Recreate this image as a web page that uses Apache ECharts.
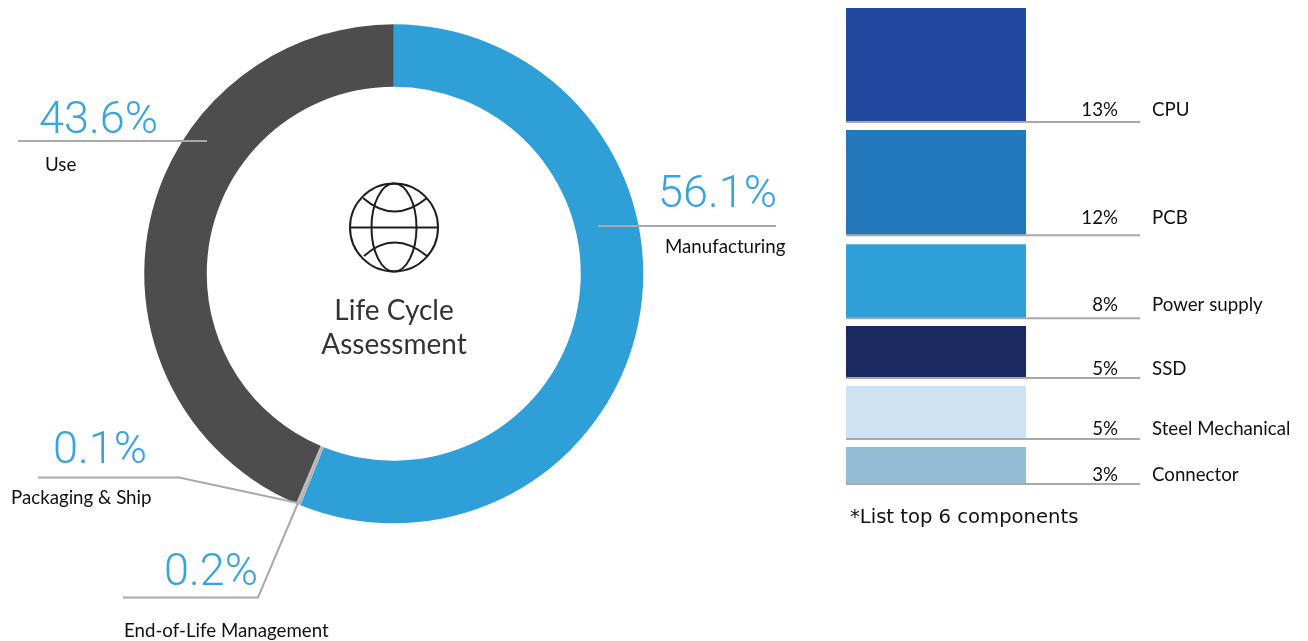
<!DOCTYPE html>
<html>
<head>
<meta charset="utf-8">
<style>html,body{margin:0;padding:0;background:#fff}#c{width:1308px;height:641px}</style>
<script src="https://cdn.jsdelivr.net/npm/echarts@6/dist/echarts.min.js"></script>
</head>
<body>
<div id="c"></div>
<script>
// Life-cycle shares (%)
const stageNames = ['Manufacturing', 'End-of-Life Management', 'Packaging & Ship', 'Use'];
const stageValues = [56.1, 0.2, 0.1, 43.6];
const stageColors = ['#2f9fd8', '#b5b5b5', '#b5b5b5', '#4d4d4d'];

// Top components
const componentNames = ['CPU', 'PCB', 'Power supply', 'SSD', 'Steel Mechanical', 'Connector'];
const componentPercents = [13, 12, 8, 5, 5, 3];
// Drawn block heights (the artwork is not strictly proportional)
const componentBlocks = [13.0, 12.0, 8.44, 5.93, 6.04, 4.22];
const blockGaps = [0.91, 1.03, 0.91, 0.91, 0.91];
const componentColors = ['#214a9f', '#2378bb', '#2f9fd8', '#1b2a60', '#cfe2f2', '#92bcd3'];
const footnote = '*List top 6 components';
const centerLines = ['Life Cycle', 'Assessment'];

const LABEL_FONT = 'Lato';
const NUM_FONT = 'Roboto';
const LINE = '#a9a9a9';

const chart = echarts.init(document.getElementById('c'), null, {width: 1308, height: 641});

const series = [{
  type: 'pie', animation: false, silent: true,
  center: [393.75, 273.75], radius: [187, 249.5], startAngle: 90, clockwise: true,
  label: {show: false}, labelLine: {show: false}, minAngle: 0,
  data: stageNames.map((n, i) => ({name: n, value: stageValues[i], itemStyle: {color: stageColors[i]}}))
}];
componentNames.forEach((n, i) => {
  series.push({
    type: 'bar', name: n, stack: 'parts', barWidth: 180, animation: false, silent: true,
    itemStyle: {color: componentColors[i]}, data: [componentBlocks[i]]
  });
  if (i < blockGaps.length) series.push({
    type: 'bar', name: 'gap' + i, stack: 'parts', barWidth: 180, animation: false, silent: true,
    itemStyle: {color: 'transparent'}, data: [blockGaps[i]]
  });
});
const total = componentBlocks.concat(blockGaps).reduce((a, b) => a + b, 0);

chart.setOption({
  backgroundColor: '#fff',
  grid: {left: 846, width: 180, top: 8, height: 476},
  xAxis: {type: 'category', data: ['parts'], show: false},
  yAxis: {type: 'value', inverse: true, min: 0, max: total, show: false},
  series
});

// Annotation layer
function text(str, x, y, size, opts) {
  opts = opts || {};
  return {type: 'text', z: 110, silent: true, x, y, style: {
    text: str, fill: opts.fill || '#111', align: opts.align || 'left', verticalAlign: 'middle',
    font: (opts.weight || 400) + ' ' + size + 'px "' + (opts.font || LABEL_FONT) + '", sans-serif'
  }};
}
function poly(points, color, w) {
  return {type: 'polyline', z: 105, silent: true, shape: {points}, style: {stroke: color || LINE, lineWidth: w || 2, fill: null}};
}
const g = [];
const NUM = '#38a3dc';
const pct = v => v + '%';
const stageLayout = [
  {numX: 658, numY: 196, nameX: 665, nameY: 247, line: [[598, 226], [776, 226]]},
  {numX: 164, numY: 574, nameX: 124, nameY: 631, line: [[123, 597.5], [258, 597.5], [298, 503]]},
  {numX: 53, numY: 452, nameX: 11, nameY: 498, line: [[38, 477.5], [179, 477.5], [298, 503]]},
  {numX: 39, numY: 122, nameX: 45, nameY: 165, line: [[18, 141], [207, 141]]}
];
stageNames.forEach((n, i) => {
  const l = stageLayout[i];
  g.push(poly(l.line));
  g.push(text(pct(stageValues[i]), l.numX, l.numY, 45, {fill: NUM, font: NUM_FONT, weight: 300}));
  g.push(text(n, l.nameX, l.nameY, 18.7));
});
centerLines.forEach((s, i) => g.push(text(s, 394, 311 + i * 34, 28, {align: 'center', font: 'Lato', fill: '#333'})));

// Globe
const gs = {stroke: '#1e1e1e', lineWidth: 2, fill: null};
g.push({type: 'circle', z: 110, silent: true, shape: {cx: 394, cy: 227.5, r: 44}, style: gs});
g.push({type: 'ellipse', z: 110, silent: true, shape: {cx: 394, cy: 227.5, rx: 22.5, ry: 44}, style: gs});
g.push({type: 'line', z: 110, silent: true, shape: {x1: 350, y1: 227.5, x2: 438, y2: 227.5}, style: gs});
g.push({type: 'bezierCurve', z: 110, silent: true, shape: {x1: 363, y1: 198, x2: 427, y2: 198, cpx1: 394, cpy1: 225}, style: gs});
g.push({type: 'bezierCurve', z: 110, silent: true, shape: {x1: 364, y1: 256, x2: 427, y2: 256, cpx1: 394, cpy1: 229}, style: gs});

// Component rows: a rule under each block with its percent and name
const labelCentreOffset = [-12, -17, -13, -9, -10, -9];
let cum = 0;
componentNames.forEach((n, i) => {
  cum += componentBlocks[i];
  const y = chart.convertToPixel({yAxisIndex: 0}, cum);
  g.push(poly([[846, y], [1140, y]]));
  g.push(text(pct(componentPercents[i]), 1118, y + labelCentreOffset[i], 18.7, {align: 'right'}));
  g.push(text(n, 1152, y + labelCentreOffset[i], 18.7));
  cum += blockGaps[i] || 0;
});
g.push(text(footnote, 850, 518, 19.6, {font: 'DejaVu Sans'}));

chart.setOption({graphic: {elements: g}});
</script>
</body>
</html>
